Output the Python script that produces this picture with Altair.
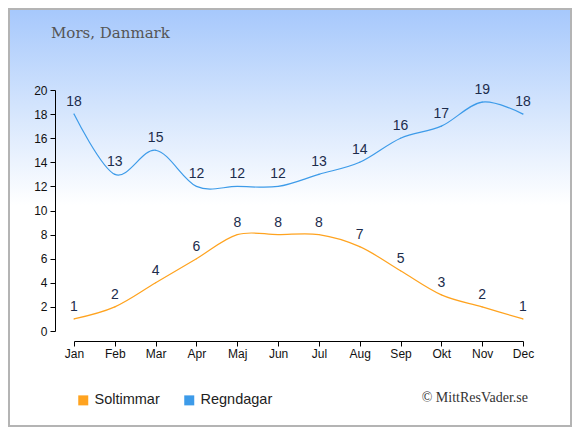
import altair as alt
import pandas as pd

months = ["Jan", "Feb", "Mar", "Apr", "Maj", "Jun", "Jul", "Aug", "Sep", "Okt", "Nov", "Dec"]
sun_hours = [1, 2, 4, 6, 8, 8, 8, 7, 5, 3, 2, 1]
rain_days = [18, 13, 15, 12, 12, 12, 13, 14, 16, 17, 19, 18]
series_names = ["Soltimmar", "Regndagar"]
series_colors = ["#ffa31f", "#3d9be9"]
y_ticks = list(range(0, 21, 2))

rows = []
for i, m in enumerate(months):
    rows.append({"idx": i, "month": m, "series": "Soltimmar", "value": sun_hours[i]})
    rows.append({"idx": i, "month": m, "series": "Regndagar", "value": rain_days[i]})
df = pd.DataFrame(rows)

W, H = 449, 241
LEFT, TOP = 66, 82
TOTAL_W, TOTAL_H = 564, 419

label_expr = "[" + ",".join(f"'{m}'" for m in months) + "][datum.value]"

x_enc = alt.X("idx:Q",
              scale=alt.Scale(domain=[0, 11], nice=False, zero=False),
              axis=alt.Axis(values=list(range(12)), labelExpr=label_expr, title=None,
                            grid=False, offset=10, tickSize=5, labelPadding=2,
                            labelFlush=False, labelOverlap=False,
                            domainColor="#000", tickColor="#000", labelColor="#111",
                            labelFont="Liberation Sans", labelFontSize=12, zindex=2))
y_enc = alt.Y("value:Q",
              scale=alt.Scale(domain=[0, 20], nice=False),
              axis=alt.Axis(values=y_ticks, title=None, grid=False, offset=19,
                            tickSize=5, labelPadding=3, labelFlush=False,
                            domainColor="#000", tickColor="#000", labelColor="#111",
                            labelFont="Liberation Sans", labelFontSize=12, zindex=2))
color_scale = alt.Scale(domain=series_names, range=series_colors)

bg = alt.Chart(alt.Data(values=[{}])).mark_rect(
    fill=alt.Gradient(gradient="linear",
                      stops=[alt.GradientStop(color="#a6c8fc", offset=0),
                             alt.GradientStop(color="#d6e6fd", offset=0.25),
                             alt.GradientStop(color="#ffffff", offset=0.47),
                             alt.GradientStop(color="#ffffff", offset=1)],
                      x1=0, x2=0, y1=0, y2=1),
    stroke="#b4b4b4", strokeWidth=2
).encode(
    x=alt.value(-LEFT + 1), x2=alt.value(TOTAL_W - LEFT - 1),
    y=alt.value(-TOP + 1), y2=alt.value(TOTAL_H - TOP - 1)
)

lines = alt.Chart(df).mark_line(interpolate="cardinal", strokeWidth=1.2).encode(
    x=x_enc, y=y_enc,
    color=alt.Color("series:N", scale=color_scale, legend=None),
    detail="series:N"
)

legend_pts = alt.Chart(df).mark_square(size=1, filled=True, opacity=1).encode(
    x=x_enc, y=y_enc,
    fill=alt.Fill("series:N", scale=color_scale, sort=series_names,
                  legend=alt.Legend(title=None, orient="none", direction="horizontal",
                                    legendX=2, legendY=303, symbolType="square",
                                    symbolSize=100, symbolStrokeWidth=0,
                                    labelFont="Liberation Sans", labelFontSize=14.5,
                                    labelColor="#222", labelOffset=4,
                                    columnPadding=22, padding=0, symbolOpacity=1,
                                    zindex=2))
)

labels = alt.Chart(df).mark_text(
    dy=-8, baseline="alphabetic", align="center",
    font="Liberation Sans", fontSize=14, color="#1c2c4c"
).encode(x=x_enc, y=y_enc, text="value:Q")

title = alt.Chart(alt.Data(values=[{"t": "Mors, Danmark"}])).mark_text(
    align="left", baseline="alphabetic", font="DejaVu Serif", fontSize=15, color="#555555"
).encode(x=alt.value(-23), y=alt.value(-52), text="t:N")

credit = alt.Chart(alt.Data(values=[{"t": "© MittResVader.se"}])).mark_text(
    align="right", baseline="middle", font="Liberation Serif", fontSize=14, color="#333333"
).encode(x=alt.value(454), y=alt.value(308), text="t:N")

chart = alt.layer(bg, lines, legend_pts, labels, title, credit).properties(
    width=W, height=H, padding=0
).resolve_scale(fill="independent").configure_view(stroke=None).configure(background="#ffffff")

chart.save("out.html", embed_options={"renderer": "svg", "actions": False})
